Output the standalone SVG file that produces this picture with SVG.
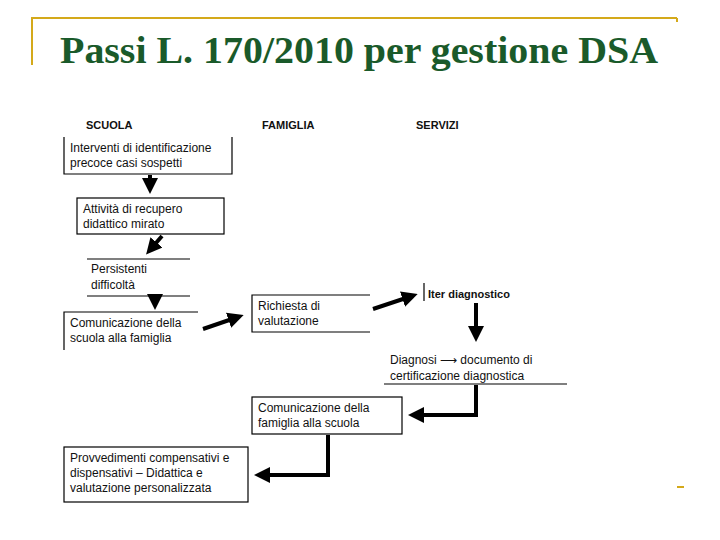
<svg xmlns="http://www.w3.org/2000/svg" width="720" height="540" viewBox="0 0 720 540">
<defs>
<style>
.t{font-family:"Liberation Sans",Arial,sans-serif;font-size:12px;fill:#111}
.h{font-family:"Liberation Sans",Arial,sans-serif;font-size:11px;font-weight:bold;fill:#111}
.b{fill:none;stroke:#000;stroke-width:1.2}
.a{fill:none;stroke:#000;stroke-width:4}
</style>
<marker id="ah" markerWidth="4" markerHeight="4" refX="2.5" refY="2" orient="auto"><path d="M0,0 L4,2 L0,4 Z" fill="#000"/></marker>
</defs>
<rect width="720" height="540" fill="#fff"/>
<path d="M32,65 V18 H677 M677,18 V22 M677,487 H684" fill="none" stroke="#d4a91a" stroke-width="2"/>
<text x="60" y="63" font-family="Liberation Serif,serif" font-size="38" font-weight="bold" fill="#1a5a2a" textLength="598" lengthAdjust="spacingAndGlyphs">Passi L. 170/2010 per gestione DSA</text>
<text class="h" x="86" y="129">SCUOLA</text>
<text class="h" x="262" y="129">FAMIGLIA</text>
<text class="h" x="416" y="129">SERVIZI</text>
<g id="n1"><path class="b" d="M64,137 V174 H232 V137"/><text class="t" x="70" y="152">Interventi di identificazione</text><text class="t" x="70" y="167">precoce casi sospetti</text></g>
<g id="n2"><rect class="b" x="77" y="198" width="147" height="36"/><text class="t" x="83" y="213">Attività di recupero</text><text class="t" x="83" y="228">didattico mirato</text></g>
<g id="n3"><path class="b" d="M87,259 H190 M87,296 H190"/><text class="t" x="91" y="273">Persistenti</text><text class="t" x="91" y="289">difficoltà</text></g>
<g id="n4"><path class="b" d="M64,350 V312 H198"/><text class="t" x="70" y="327">Comunicazione della</text><text class="t" x="70" y="342">scuola alla famiglia</text></g>
<g id="n5"><path class="b" d="M370,295 H252 V332 H370"/><text class="t" x="258" y="310">Richiesta di</text><text class="t" x="258" y="325">valutazione</text></g>
<g id="n6"><path class="b" d="M424,283 V301"/><text class="h" x="428" y="298">Iter diagnostico</text></g>
<g id="n7"><path class="b" d="M384,384 H567"/><text class="t" x="390" y="364">Diagnosi  ⟶  documento di</text><text class="t" x="390" y="380">certificazione diagnostica</text></g>
<g id="n8"><rect class="b" x="252" y="397" width="150" height="37"/><text class="t" x="258" y="412">Comunicazione della</text><text class="t" x="258" y="427">famiglia alla scuola</text></g>
<g id="n9"><rect class="b" x="64" y="447" width="184" height="55"/><text class="t" x="70" y="462">Provvedimenti compensativi e</text><text class="t" x="70" y="477">dispensativi –  Didattica e</text><text class="t" x="70" y="492">valutazione personalizzata</text></g>
<g id="connectors">
<path class="a" marker-end="url(#ah)" d="M150,175 V188"/>
<path class="a" marker-end="url(#ah)" d="M162,236 L150,250"/>
<path class="a" marker-end="url(#ah)" d="M155,296 V304"/>
<path class="a" marker-end="url(#ah)" d="M203,329 L238,317"/>
<path class="a" marker-end="url(#ah)" d="M373,309 L412,296"/>
<path class="a" marker-end="url(#ah)" d="M476,303 V336"/>
<path class="a" marker-end="url(#ah)" d="M476,385 V415 H414"/>
<path class="a" marker-end="url(#ah)" d="M328,435 V475 H260"/>
</g>
</svg>
